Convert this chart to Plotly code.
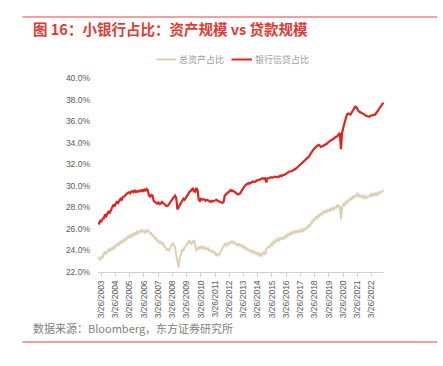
import pandas as pd
import plotly.graph_objects as go

# Monthly observations, Jan 2003 - Feb 2023
dates = pd.date_range("2003-01-01", "2023-02-01", freq="MS")

loan_share = [
    # 2003
    26.6, 26.5, 26.75, 26.7, 26.95, 27.0, 27.35, 27.2, 27.45, 27.6, 27.5, 27.85,
    # 2004
    28.0, 28.25, 28.1, 28.35, 28.5, 28.4, 28.65, 28.8, 28.7, 28.95, 29.0, 29.15,
    # 2005
    29.2, 29.35, 29.4, 29.3, 29.45, 29.5, 29.4, 29.55, 29.4, 29.5, 29.45, 29.55,
    # 2006
    29.5, 29.6, 29.5, 29.65, 29.55, 29.7, 29.6, 29.1, 29.0, 29.15, 29.1, 28.6,
    # 2007
    28.5, 28.4, 28.35, 28.45, 28.3, 28.35, 28.5, 28.4, 28.3, 28.2, 28.1, 28.15,
    # 2008
    28.3, 28.45, 28.6, 28.7, 28.9, 29.1, 28.9, 27.8, 28.0, 28.2, 28.4, 28.5,
    # 2009
    28.8, 28.7, 28.9, 29.0, 29.2, 29.4, 29.5, 29.6, 29.8, 29.5, 29.45, 29.8,
    # 2010
    29.6, 28.7, 28.6, 28.8, 28.7, 28.75, 28.7, 28.6, 28.7, 28.65, 28.6, 28.5,
    # 2011
    28.6, 28.55, 28.6, 28.65, 28.7, 28.6, 28.55, 28.5, 28.45, 28.4, 28.5, 29.1,
    # 2012
    29.2, 29.3, 29.4, 29.5, 29.6, 29.5, 29.55, 29.45, 29.4, 29.3, 29.2, 29.25,
    # 2013
    29.3, 29.5, 29.7, 29.9, 30.0, 30.1, 30.2, 30.25, 30.2, 30.3, 30.35, 30.4,
    # 2014
    30.35, 30.4, 30.5, 30.5, 30.55, 30.6, 30.65, 30.7, 30.65, 30.7, 30.3, 30.7,
    # 2015
    30.7, 30.75, 30.8, 30.75, 30.8, 30.85, 30.8, 30.85, 30.8, 30.9, 30.95, 30.9,
    # 2016
    31.0, 31.0, 31.05, 31.1, 31.2, 31.3, 31.3, 31.35, 31.4, 31.45, 31.5, 31.6,
    # 2017
    31.7, 31.8, 31.9, 32.0, 32.1, 32.2, 32.3, 32.4, 32.5, 32.6, 32.7, 32.9,
    # 2018
    33.1, 33.2, 33.4, 33.5, 33.6, 33.7, 33.8, 33.75, 33.6, 33.65, 33.7, 33.8,
    # 2019
    33.85, 33.9, 34.0, 34.1, 34.2, 34.25, 34.3, 34.4, 34.5, 34.55, 34.6, 34.8,
    # 2020
    34.9, 33.4, 34.9, 35.4, 35.8, 36.2, 36.6, 36.7, 36.65, 36.6, 36.8, 37.0,
    # 2021
    37.2, 37.35, 37.3, 37.1, 36.9, 36.85, 36.8, 36.7, 36.65, 36.6, 36.5, 36.45,
    # 2022
    36.45, 36.4, 36.5, 36.5, 36.55, 36.6, 36.6, 36.8, 36.9, 37.1, 37.3, 37.4,
    # 2023
    37.6, 37.7,
]

asset_share = [
    # 2003
    23.4, 23.2, 23.15, 23.4, 23.35, 23.7, 23.9, 23.65, 23.95, 24.15, 23.9, 24.25,
    # 2004
    24.0, 24.3, 24.2, 24.55, 24.4, 24.65, 24.55, 24.8, 24.65, 24.95, 24.85, 25.1,
    # 2005
    25.0, 25.3, 25.2, 25.4, 25.25, 25.5, 25.4, 25.6, 25.5, 25.75, 25.6, 25.8,
    # 2006
    25.7, 25.95, 25.8, 25.65, 25.85, 25.7, 25.9, 25.8, 25.55, 25.6, 25.35, 25.4,
    # 2007
    25.1, 25.15, 24.85, 24.9, 24.7, 24.8, 24.55, 24.7, 24.35, 24.3, 24.05, 24.1,
    # 2008
    24.0, 24.35, 24.45, 24.7, 24.55, 24.3, 23.6, 23.1, 22.4, 23.3, 23.6, 24.1,
    # 2009
    23.95, 24.3, 24.35, 24.6, 24.65, 24.95, 24.75, 24.6, 24.8, 24.95, 24.5, 24.0,
    # 2010
    24.1, 24.35, 24.15, 24.4, 24.2, 24.35, 24.15, 24.25, 24.1, 24.2, 23.95, 24.0,
    # 2011
    23.85, 23.95, 23.75, 23.8, 23.55, 23.65, 23.55, 23.8, 23.95, 24.2, 24.4, 24.6,
    # 2012
    24.45, 24.7, 24.5, 24.75, 24.7, 24.85, 24.7, 24.8, 24.55, 24.6, 24.45, 24.65,
    # 2013
    24.45, 24.5, 24.3, 24.4, 24.15, 24.25, 24.05, 24.1, 23.95, 24.0, 23.8, 23.95,
    # 2014
    23.75, 23.85, 23.65, 23.75, 23.55, 23.7, 23.5, 23.65, 23.9, 23.6, 24.1, 24.25,
    # 2015
    24.35, 24.3, 24.6, 24.5, 24.8, 24.7, 24.95, 24.85, 25.1, 24.95, 25.15, 25.05,
    # 2016
    25.2, 25.1, 25.35, 25.25, 25.5, 25.4, 25.6, 25.5, 25.7, 25.6, 25.8, 25.65,
    # 2017
    25.8, 25.7, 25.85, 25.75, 25.95, 25.8, 26.0, 25.95, 26.15, 26.1, 26.35, 26.3,
    # 2018
    26.65, 26.6, 26.9, 26.85, 27.1, 27.0, 27.3, 27.2, 27.4, 27.35, 27.6, 27.5,
    # 2019
    27.7, 27.55, 27.75, 27.65, 27.85, 27.7, 27.95, 27.8, 28.0, 27.95, 28.25, 28.05,
    # 2020
    28.15, 26.9, 28.0, 28.3, 28.2, 28.5, 28.4, 28.65, 28.6, 28.85, 28.75, 29.0,
    # 2021
    28.9, 29.1, 29.05, 29.35, 29.0, 29.1, 28.95, 29.1, 28.9, 29.05, 28.8, 28.95,
    # 2022
    29.05, 29.0, 29.2, 29.05, 29.25, 29.1, 29.3, 29.15, 29.35, 29.25, 29.45, 29.4,
    # 2023
    29.55, 29.6,
]

series_names = ["总资产占比", "银行信贷占比"]
tick_years = list(range(2003, 2023))
tick_dates = [f"{y}-03-26" for y in tick_years]
tick_labels = [f"3/26/{y}" for y in tick_years]
y_ticks = [22, 24, 26, 28, 30, 32, 34, 36, 38, 40]
y_tick_labels = [f"{v:.1f}%" for v in y_ticks]

title_text = "图 16：小银行占比：资产规模 vs 贷款规模"
source_text = "数据来源：Bloomberg，东方证券研究所"

RED = "#e3221e"
BEIGE = "#dcd0b4"
RULE_RED = "#e0463c"
CJK = "Noto Sans CJK SC"

W, H = 443, 366
L, R, T, B = 98, 59, 78, 94
pw, ph = W - L - R, H - T - B


def px(x):
    return (x - L) / pw


def py(y):
    return (H - B - y) / ph


fig = go.Figure()
fig.add_trace(go.Scatter(x=dates, y=asset_share, mode="lines", name=series_names[0],
                         line=dict(color=BEIGE, width=2), showlegend=False))
fig.add_trace(go.Scatter(x=dates, y=loan_share, mode="lines", name=series_names[1],
                         line=dict(color=RED, width=2.2), showlegend=False))

shapes = [
    dict(type="line", xref="paper", yref="paper", x0=px(22.5), x1=px(437), y0=py(17), y1=py(17),
         line=dict(color=RULE_RED, width=1.2)),
    dict(type="line", xref="paper", yref="paper", x0=px(22.5), x1=px(437), y0=py(342), y1=py(342),
         line=dict(color=RULE_RED, width=1.2)),
    # legend keys
    dict(type="line", xref="paper", yref="paper", x0=px(156.5), x1=px(176), y0=py(59.5), y1=py(59.5),
         line=dict(color=BEIGE, width=2)),
    dict(type="line", xref="paper", yref="paper", x0=px(231.5), x1=px(252), y0=py(59.5), y1=py(59.5),
         line=dict(color=RED, width=2)),
]

annotations = [
    dict(text=series_names[0], xref="paper", yref="paper", x=px(177), y=py(59.5),
         xanchor="left", yanchor="middle", showarrow=False,
         font=dict(family=CJK, size=9, color="#9a9a9a")),
    dict(text=series_names[1], xref="paper", yref="paper", x=px(253), y=py(59.5),
         xanchor="left", yanchor="middle", showarrow=False,
         font=dict(family=CJK, size=9, color="#9a9a9a")),
    dict(text=source_text, xref="paper", yref="paper", x=px(31), y=py(327.5),
         xanchor="left", yanchor="middle", showarrow=False,
         font=dict(family=CJK, size=11, color="#808080")),
    dict(text=f"<b>{title_text}</b>", xref="paper", yref="paper", x=px(31), y=py(28.5),
         xanchor="left", yanchor="middle", showarrow=False,
         font=dict(family=CJK, size=14.5, color="#e23a33")),
]

fig.update_layout(
    width=W, height=H,
    margin=dict(l=L, r=R, t=T, b=B),
    paper_bgcolor="white", plot_bgcolor="white",
    shapes=shapes,
    annotations=annotations,
    xaxis=dict(
        type="date",
        range=["2003-01-01", "2023-02-10"],
        tickmode="array", tickvals=tick_dates, ticktext=tick_labels,
        tickangle=-90,
        tickfont=dict(family="Liberation Sans", size=8.5, color="#595959"),
        showgrid=False, zeroline=False,
        showline=True, linecolor="#d0d0d0", linewidth=1,
        ticks="outside", ticklen=4, tickcolor="#d0d0d0",
    ),
    yaxis=dict(
        range=[22, 40],
        tickmode="array", tickvals=y_ticks, ticktext=y_tick_labels,
        tickfont=dict(family="Liberation Sans", size=8.5, color="#595959"),
        showgrid=False, zeroline=False, showline=False, ticks="",
        ticklabelstandoff=7,
    ),
    font=dict(family=CJK),
)

fig.write_html("out.html", config={"displayModeBar": False},
               post_script="document.body.style.margin='0px';")
